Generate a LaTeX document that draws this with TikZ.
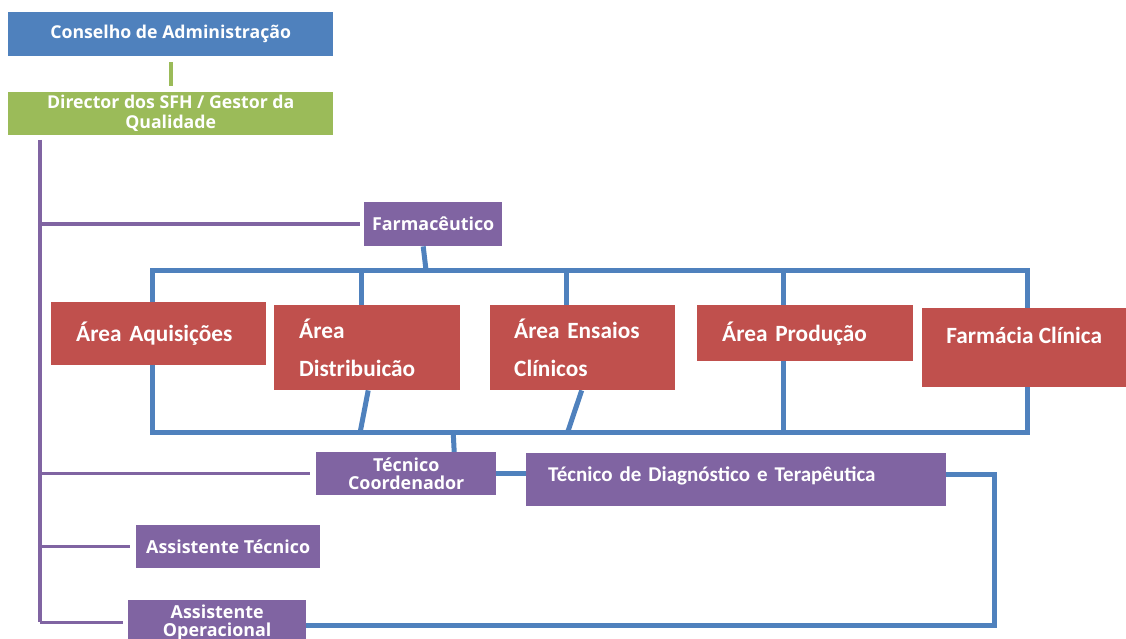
\documentclass[tikz,border=0pt]{standalone}
\usepackage{fontspec}
\setmainfont{Carlito}
\newfontfamily\ofont{Open Sans}
\usetikzlibrary{backgrounds}
\definecolor{cblue}{HTML}{4F81BD}
\definecolor{cgreen}{HTML}{9BBB59}
\definecolor{cred}{HTML}{C0504D}
\definecolor{cpurple}{HTML}{8064A2}
\tikzset{
  base/.style={anchor=north west, text=white, inner xsep=0pt, inner ysep=0pt},
  topbox/.style={base, font=\ofont\bfseries\fontsize{17.7}{20}\selectfont, align=center},
  purbox/.style={base, fill=cpurple, font=\ofont\bfseries\fontsize{17.9}{18}\selectfont, align=center},
  redbox/.style={base, fill=cred, font=\bfseries\fontsize{23.3}{38}\selectfont},
  bline/.style={draw=cblue, line width=5pt},
  pline/.style={draw=cpurple, line width=3.5pt},
  gline/.style={draw=cgreen, line width=4pt}
}
\begin{document}
\begin{tikzpicture}[x=1pt,y=-1pt]
\useasboundingbox (0,0) rectangle (1126,639);
% boxes
\node[topbox, fill=cblue, minimum width=325pt, minimum height=44pt] (cons) at (8,12) {Conselho de Administração};
\node[topbox, fill=cgreen, minimum width=325pt, minimum height=43pt] (dir) at (8,92) {Director dos SFH / Gestor da\\Qualidade};
\node[purbox, minimum width=138pt, minimum height=44pt] (farm) at (364,202) {Farmacêutico};
\node[redbox, minimum width=215pt, minimum height=63pt, text width=165pt, align=left] (aq) at (51,302) {Área Aquisições};
\node[redbox, minimum width=186pt, minimum height=85pt, text width=136pt, align=left] (dist) at (274,305) {Área\\Distribuicão};
\node[redbox, minimum width=185pt, minimum height=85pt, text width=137pt, align=left] (ens) at (490,305) {Área Ensaios\\Clínicos};
\node[redbox, minimum width=216pt, minimum height=56pt, text width=166pt, align=left] (prod) at (697,305) {Área Produção};
\node[redbox, minimum width=204pt, text height=35pt, text depth=44pt, align=center] (fc) at (922,308) {Farmácia Clínica};
\node[purbox, minimum width=180pt, minimum height=43pt] (tc) at (316,452) {Técnico\\Coordenador};
\node[base, fill=cpurple, font=\bfseries\fontsize{21}{24}\selectfont, text width=376pt, align=left, inner xsep=22pt, text height=28pt, text depth=25pt] (tdt) at (526,453) {Técnico de Diagnóstico e Terapêutica};
\node[purbox, minimum width=184pt, minimum height=43pt] (at) at (136,525) {Assistente Técnico};
\node[purbox, minimum width=178pt, minimum height=45pt] (ao) at (128,600) {Assistente\\Operacional};
% connectors
\begin{pgfonlayer}{background}
\fill[white] (0,0) rectangle (1126,639);
\draw[gline] ([yshift=-6pt]cons.south) -- ([yshift=6pt]dir.north);
\coordinate (ttop) at (40,140);
\coordinate (tbot) at (40,622);
\draw[pline] (ttop) -- (tbot);
\draw[pline, shorten >=4pt] (ttop |- farm.west) -- (farm.west);
\draw[pline, shorten >=6pt] (ttop |- tc.west) -- (tc.west);
\draw[pline, shorten >=6pt] (ttop |- at.west) -- (at.west);
\draw[pline, shorten >=5pt] (ttop |- ao.west) -- (ao.west);
\coordinate (ftl) at (152,270);
\coordinate (fbr) at (1027,432);
\draw[bline] (ftl) rectangle (fbr);
\draw[bline] ([xshift=-10pt]farm.south) -- (426,270);
\draw[bline] ([xshift=-6pt]dist.north) -- ([xshift=-6pt]dist.north |- ftl);
\draw[bline] ([xshift=-16pt]ens.north) -- ([xshift=-16pt]ens.north |- ftl);
\draw[bline] ([xshift=-22pt]prod.north |- ftl) -- ([xshift=-22pt]prod.north |- fbr);
\draw[bline] ([xshift=1pt]dist.south) -- ([xshift=-7pt]dist.south |- fbr);
\draw[bline] ([xshift=-1pt]ens.south) -- ([xshift=-15pt]ens.south |- fbr);
\draw[bline] ([xshift=48pt]tc.north) -- ([xshift=47pt]tc.north |- fbr);
\draw[bline] (tc.east) -- (tc.east -| tdt.west);
\draw[bline] ([yshift=5pt]tdt.east) -- ++(48,0) |- ([yshift=-3pt]ao.east);
\end{pgfonlayer}
\end{tikzpicture}
\end{document}
